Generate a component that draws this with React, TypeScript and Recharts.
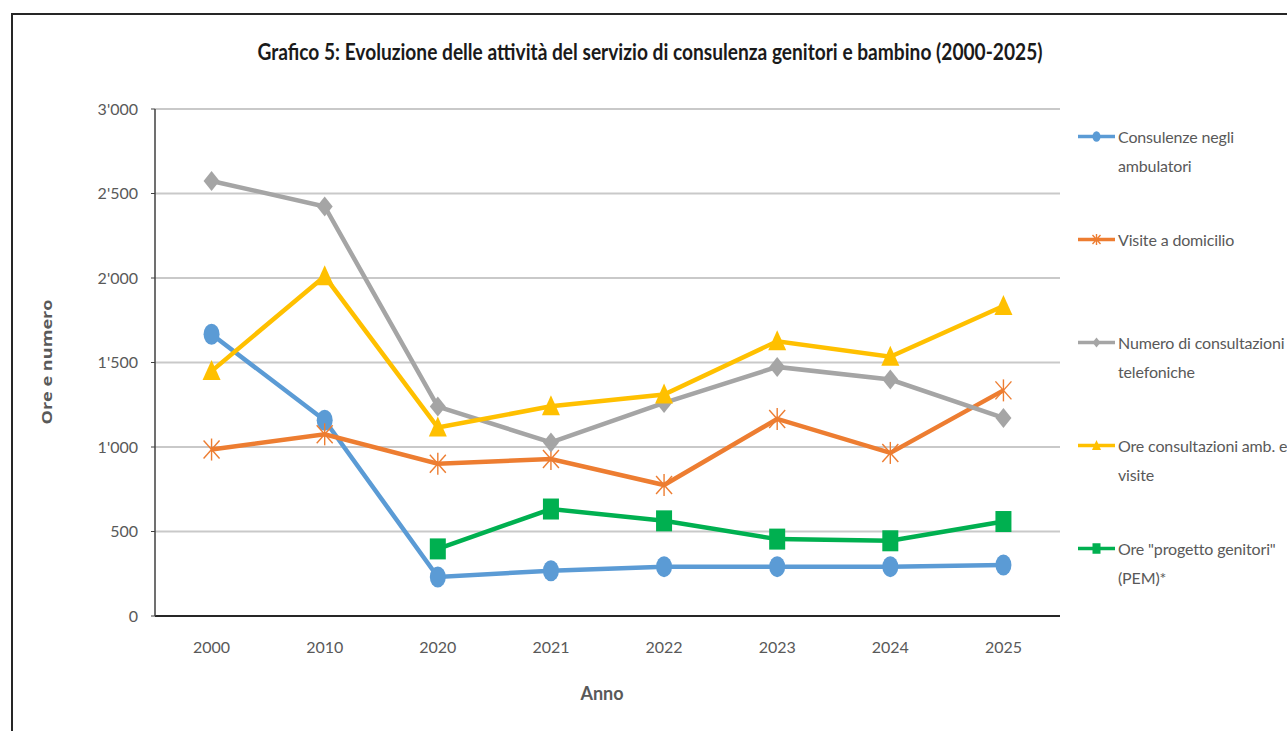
import React from 'react';
import { LineChart, Line, XAxis, YAxis, CartesianGrid, Legend } from 'recharts';

const years = ['2000', '2010', '2020', '2021', '2022', '2023', '2024', '2025'];
const consulenzeAmbulatori = [1667, 1158, 231, 268, 292, 292, 292, 302];
const visiteDomicilio = [985, 1075, 901, 929, 775, 1166, 965, 1335];
const consultazioniTelefoniche = [2574, 2423, 1239, 1027, 1261, 1474, 1399, 1172];
const oreConsultazioni = [1449, 2010, 1115, 1241, 1310, 1626, 1534, 1834];
const oreProgettoGenitori = [null, null, 397, 633, 563, 455, 445, 559];
const yTicks = [0, 500, 1000, 1500, 2000, 2500, 3000];

const seriesOrder = ['amb', 'dom', 'tel', 'ore', 'pem'] as const;
const seriesNames = {
  amb: 'Consulenze negli ambulatori',
  dom: 'Visite a domicilio',
  tel: 'Numero di consultazioni telefoniche',
  ore: 'Ore consultazioni amb. e visite',
  pem: 'Ore "progetto genitori" (PEM)*',
};

const data = years.map((year, i) => ({
  year,
  amb: consulenzeAmbulatori[i],
  dom: visiteDomicilio[i],
  tel: consultazioniTelefoniche[i],
  ore: oreConsultazioni[i],
  pem: oreProgettoGenitori[i],
}));

const colors: Record<string, string> = {
  amb: '#5B9BD5',
  dom: '#ED7D31',
  tel: '#A5A5A5',
  ore: '#FFC000',
  pem: '#00B050',
};

const FONT = 'Lato, "Open Sans", sans-serif';
const GREY_TEXT = '#595959';

const formatThousands = (v: number) => String(v).replace(/\B(?=(\d{3})+(?!\d))/g, "'");

// draws one marker shape, s = scale (1 on chart, smaller in legend)
const marker = (kind: string, cx: number, cy: number, s: number) => {
  const c = colors[kind];
  switch (kind) {
    case 'amb':
      return <ellipse cx={cx} cy={cy} rx={8 * s} ry={10.5 * s} fill={c} />;
    case 'dom':
      return (
        <g stroke={c} strokeWidth={1.4}>
          <line x1={cx} y1={cy - 11 * s} x2={cx} y2={cy + 11 * s} />
          <line x1={cx - 8 * s} y1={cy - 9 * s} x2={cx + 8 * s} y2={cy + 9 * s} />
          <line x1={cx - 8 * s} y1={cy + 9 * s} x2={cx + 8 * s} y2={cy - 9 * s} />
        </g>
      );
    case 'tel':
      return (
        <polygon
          points={`${cx},${cy - 10 * s} ${cx + 8 * s},${cy} ${cx},${cy + 10 * s} ${cx - 8 * s},${cy}`}
          fill={c}
        />
      );
    case 'ore':
      return (
        <polygon
          points={`${cx},${cy - 11 * s} ${cx + 9 * s},${cy + 9 * s} ${cx - 9 * s},${cy + 9 * s}`}
          fill={c}
        />
      );
    default:
      return <rect x={cx - 8 * s} y={cy - 10.5 * s} width={16 * s} height={21 * s} fill={c} />;
  }
};

const makeDot = (kind: string) => (props: any) => {
  const { cx, cy, index } = props;
  if (cx == null || cy == null || props.value == null) return <g key={`${kind}-${index}`} />;
  return <g key={`${kind}-${index}`}>{marker(kind, cx, cy, 1)}</g>;
};

const LegendContent = ({ payload }: any) => {
  const items = [...(payload || [])].sort(
    (a: any, b: any) => seriesOrder.indexOf(a.dataKey) - seriesOrder.indexOf(b.dataKey)
  );
  return (
    <div style={{ fontFamily: FONT, fontSize: 16, color: GREY_TEXT, letterSpacing: -0.15 }}>
      {items.map((p: any) => (
        <div key={p.dataKey} style={{ display: 'flex', alignItems: 'flex-start', height: 103 }}>
          <svg width={40} height={29} style={{ flex: 'none' }}>
            <line x1={0} y1={14.5} x2={37} y2={14.5} stroke={colors[p.dataKey]} strokeWidth={3.5} />
            {marker(p.dataKey, 18.5, 14.5, 0.5)}
          </svg>
          <div style={{ width: 178, lineHeight: '29px', whiteSpace: 'normal' }}>{p.value}</div>
        </div>
      ))}
    </div>
  );
};

export default function App() {
  return (
    <div
      style={{
        position: 'absolute',
        left: 0,
        top: 0,
        width: 1287,
        height: 731,
        overflow: 'hidden',
        background: '#fff',
      }}
    >
      <div
        style={{
          position: 'absolute',
          left: 11,
          top: 13,
          width: 1320,
          height: 760,
          border: '2px solid #262626',
        }}
      />
      <LineChart
        width={1287}
        height={731}
        data={data}
        margin={{ top: 109, right: 227, bottom: 85, left: 0 }}
        style={{ position: 'absolute', left: 0, top: 0 }}
      >
        <CartesianGrid vertical={false} stroke="#C9C9C9" strokeWidth={2} />
        <XAxis
          dataKey="year"
          scale="band"
          height={30}
          tickSize={0}
          tickMargin={26}
          axisLine={{ stroke: '#262626', strokeWidth: 2 }}
          tick={{ fill: GREY_TEXT, fontSize: 16, fontFamily: FONT }}
        />
        <YAxis
          width={155}
          domain={[0, 3000]}
          ticks={yTicks}
          interval={0}
          tickFormatter={formatThousands}
          tickSize={4}
          tickMargin={13}
          axisLine={{ stroke: '#404040', strokeWidth: 1.5 }}
          tickLine={{ stroke: '#404040', strokeWidth: 1 }}
          tick={{ fill: GREY_TEXT, fontSize: 16, fontFamily: FONT }}
        />
        <Legend
          layout="vertical"
          align="center"
          verticalAlign="middle"
          content={<LegendContent />}
          wrapperStyle={{ left: 1078, top: 122, width: 230, height: 520 }}
        />
        {seriesOrder.map((k) => (
          <Line
            key={k}
            type="linear"
            dataKey={k}
            name={seriesNames[k]}
            stroke={colors[k]}
            strokeWidth={4.5}
            dot={makeDot(k)}
            activeDot={false}
            isAnimationActive={false}
          />
        ))}
      </LineChart>
      <svg
        width={1287}
        height={731}
        style={{ position: 'absolute', left: 0, top: 0, pointerEvents: 'none' }}
      >
        <text
          x={650}
          y={60}
          textAnchor="middle"
          fontFamily={FONT}
          fontWeight={700}
          fontSize={22}
          fill="#1a1a1a"
          textLength={785}
          lengthAdjust="spacingAndGlyphs"
        >
          Grafico 5: Evoluzione delle attività del servizio di consulenza genitori e bambino (2000-2025)
        </text>
        <text
          x={602}
          y={700}
          textAnchor="middle"
          fontFamily={FONT}
          fontWeight={700}
          fontSize={18}
          fill={GREY_TEXT}
        >
          Anno
        </text>
        <text
          transform="translate(52,362) rotate(-90)"
          textAnchor="middle"
          fontFamily='"Open Sans", sans-serif'
          fontWeight={700}
          fontSize={15}
          fill={GREY_TEXT}
          textLength={125}
          lengthAdjust="spacingAndGlyphs"
        >
          Ore e numero
        </text>
      </svg>
    </div>
  );
}
